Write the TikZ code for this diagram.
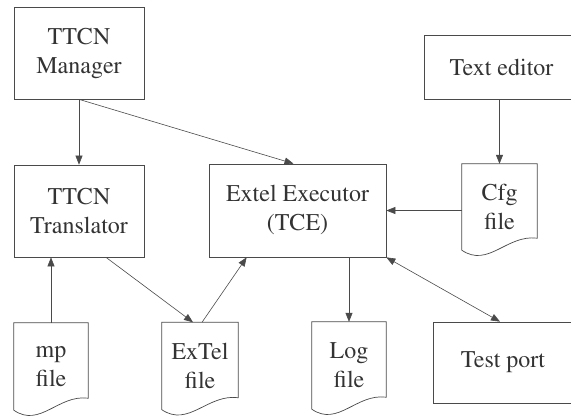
\documentclass[tikz,border=0pt]{standalone}
\usepackage[T1]{fontenc}
\usepackage{times}
\usetikzlibrary{arrows.meta,calc}
\definecolor{inkline}{HTML}{4A4A4A}
\definecolor{inktext}{HTML}{333333}

% outline of a "document" symbol: flat top, wavy bottom rising to the right
\newcommand\docoutline[1]{%
  \draw[inkline, line width=0.7pt]
    (#1.north west) -- (#1.north east) -- ($(#1.south east)+(0,-12)$)
    .. controls ($(#1.south west)!0.6!(#1.south east)+(0,-16)$)
            and ($(#1.south west)!0.35!(#1.south east)+(0,18)$) .. (#1.south west)
    -- cycle;}

\begin{document}
\begin{tikzpicture}[x=1pt,y=-1pt,
  every node/.style={font=\fontsize{24}{29}\selectfont, text=inktext,
                     align=center, inner sep=0pt},
  box/.style={draw=inkline, line width=0.7pt},
  doc/.style={minimum width=74pt, minimum height=87pt},
  link/.style={draw=inkline, line width=0.6pt,
               -{Triangle[length=9pt,width=7pt]}},
  twoway/.style={link, {Triangle[length=9pt,width=7pt]}-{Triangle[length=9pt,width=7pt]}},
]
\useasboundingbox (0,0) rectangle (571,416);
\fill[white] (0,0) rectangle (571,416);
\begin{scope}
\clip (0,0) rectangle (571,416);

% process boxes
\node[box, minimum width=130pt, minimum height=92pt] (man) at (79,53) {TTCN\\Manager};
\node[box, minimum width=130pt, minimum height=92pt] (tra) at (79,211) {TTCN\\Translator};
\node[box, minimum width=177pt, minimum height=93pt] (exe) at (297.5,210.5) {Extel Executor\\(TCE)};
\node[box, minimum width=155pt, minimum height=64pt] (ted) at (501.5,67) {Text editor};
\node[box, minimum width=140pt, minimum height=81pt] (tp) at (503,362.5) {Test port};

% files
\node[doc, minimum width=75pt, minimum height=86pt] (cfg) at (499.5,207) {Cfg\\file};
\node[doc] (mp) at (51,366.5) {mp\\file};
\node[doc, minimum width=76pt] (xt) at (200,366) {ExTel\\file};
\node[doc] (log) at (349,365.5) {Log\\file};
\docoutline{cfg}
\docoutline{mp}
\docoutline{xt}
\docoutline{log}

% data flow
\draw[link] (man) -- (tra);
\draw[link] (man.south) -- ([xshift=-4pt]exe.north);
\draw[link] (cfg.north |- ted.south) -- (cfg.north);
\draw[link] (cfg.west |- exe.east) -- (exe.east);
\draw[link] (mp.north) -- (mp.north |- tra.south);
\draw[link] ([xshift=27pt]tra.south) -- ([xshift=-7pt]xt.north);
\draw[link] ([xshift=2pt]xt.north) -- ([xshift=38pt]exe.south west);
\draw[link] (log.north |- exe.south) -- (log.north);
\draw[twoway] (exe.south east) -- ([xshift=-3pt]tp.north);
\end{scope}
\end{tikzpicture}
\end{document}
